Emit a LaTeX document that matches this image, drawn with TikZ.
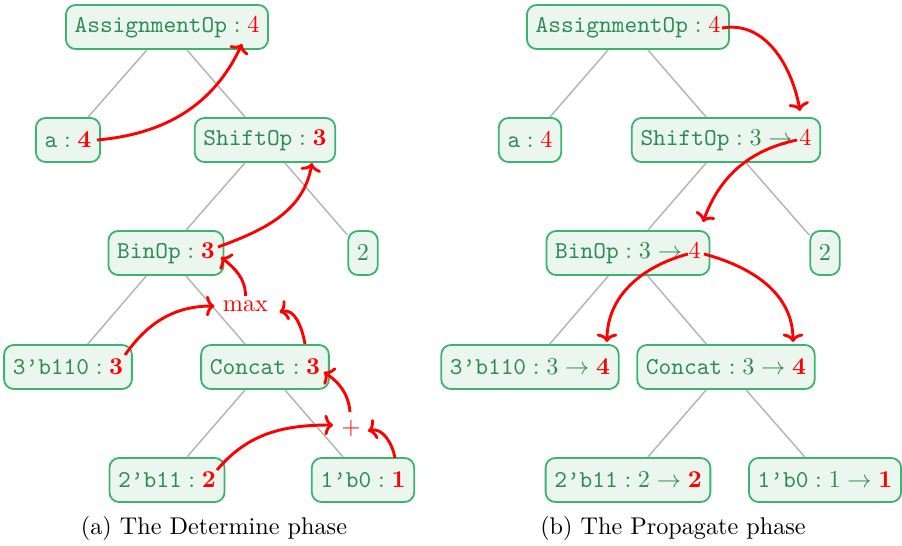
\documentclass[tikz,border=0pt]{standalone}
\usetikzlibrary{arrows.meta,calc}
\definecolor{tgreen}{RGB}{46,139,87}
\definecolor{bgreen}{RGB}{60,179,113}
\definecolor{fgreen}{RGB}{234,246,238}
\definecolor{egray}{RGB}{180,180,180}
\newcommand{\rb}[1]{\textcolor{red}{\mathbf{#1}}}
\newcommand{\rr}[1]{\textcolor{red}{#1}}
\newcommand{\q}{\textquoteright}
\tikzset{
  astnode/.style={draw=bgreen, fill=fgreen, text=tgreen, line width=0.75pt,
    rounded corners=4pt, minimum height=18.2pt, inner xsep=3.6pt, inner ysep=2pt},
  treeedge/.style={draw=egray, line width=0.6pt},
  flow/.style={draw=red, line width=1.2pt, -{To[length=3.5pt,width=8.5pt]}},
  optext/.style={text=red, inner sep=0pt},
  captext/.style={inner sep=0pt}
}
\begin{document}
\begin{tikzpicture}[x=0.4132pt,y=-0.4132pt]
\useasboundingbox (0,0) rectangle (902,546);
% ---------- (a) ----------
\node[astnode] (A1) at (167,27) {$\texttt{AssignmentOp}:\rr{4}$};
\node[astnode] (A2) at (68,140) {$\texttt{a}:\rb{4}$};
\node[astnode] (A3) at (265,140) {$\texttt{ShiftOp}:\rb{3}$};
\node[astnode] (A4) at (166,253) {$\texttt{BinOp}:\rb{3}$};
\node[astnode] (A5) at (363,253) {$2$};
\node[astnode] (A6) at (68,367) {$\texttt{3\q b110}:\rb{3}$};
\node[astnode] (A7) at (265,367) {$\texttt{Concat}:\rb{3}$};
\node[astnode] (A8) at (167,480) {$\texttt{2\q b11}:\rb{2}$};
\node[astnode] (A9) at (363,480) {$\texttt{1\q b0}:\rb{1}$};
\node[optext] (M) at (245.5,306) {max};
\node[optext] (P) at (351,428) {$+$};
\node[captext] (Ca) at (214,528) {(a) The Determine phase};
\foreach \p/\c in {A1/A2,A1/A3,A3/A4,A3/A5,A4/A6,A4/A7,A7/A8,A7/A9}
  \draw[treeedge] (\p) -- (\c);
\draw[flow] ($(A2)+(29,0)$) to[out=5,in=-115] ($(A1)+(75,17)$);
\draw[flow] ($(A4)+(52,-6)$) to[out=20,in=-100] ($(A3)+(47,23)$);
\draw[flow] ($(M)+(0,-10)$) to[out=90,in=-40] ($(A4)+(55,4)$);
\draw[flow] ($(A6)+(57,-12)$) to[out=55,in=180] ($(M)+(-31,0)$);
\draw[flow] ($(A7)+(40,-23)$) to[out=100,in=15] ($(M)+(34,6)$);
\draw[flow] ($(P)+(-1,-16)$) to[out=95,in=-35] ($(A7)+(59,5)$);
\draw[flow] ($(A8)+(50,-10)$) to[out=50,in=180] ($(P)+(-18,-3)$);
\draw[flow] ($(A9)+(32,-22)$) to[out=100,in=15] ($(P)+(17,3)$);
% ---------- (b) ----------
\node[astnode] (B1) at (628,27) {$\texttt{AssignmentOp}:\rr{4}$};
\node[astnode] (B2) at (530,140) {$\texttt{a}:\rr{4}$};
\node[astnode] (B3) at (726,140) {$\texttt{ShiftOp}:3\to\rr{4}$};
\node[astnode] (B4) at (628,253) {$\texttt{BinOp}:3\to\rr{4}$};
\node[astnode] (B5) at (825,253) {$2$};
\node[astnode] (B6) at (530,367) {$\texttt{3\q b110}:3\to\rb{4}$};
\node[astnode] (B7) at (726,367) {$\texttt{Concat}:3\to\rb{4}$};
\node[astnode] (B8) at (628,480) {$\texttt{2\q b11}:2\to\rb{2}$};
\node[astnode] (B9) at (825,480) {$\texttt{1\q b0}:1\to\rb{1}$};
\node[captext] (Cb) at (673,528) {(b) The Propagate phase};
\foreach \p/\c in {B1/B2,B1/B3,B3/B4,B3/B5,B4/B6,B4/B7,B7/B8,B7/B9}
  \draw[treeedge] (\p) -- (\c);
\draw[flow] ($(B1)+(94,1)$) to[out=10,in=100] ($(B3)+(74,-29)$);
\draw[flow] ($(B3)+(71,0)$) to[out=192,in=70] ($(B4)+(75,-31)$);
\draw[flow] ($(B4)+(60,1)$) to[out=195,in=90] ($(B6)+(77,-25)$);
\draw[flow] ($(B4)+(76,1)$) to[out=-15,in=90] ($(B7)+(67,-25)$);
\end{tikzpicture}
\end{document}
